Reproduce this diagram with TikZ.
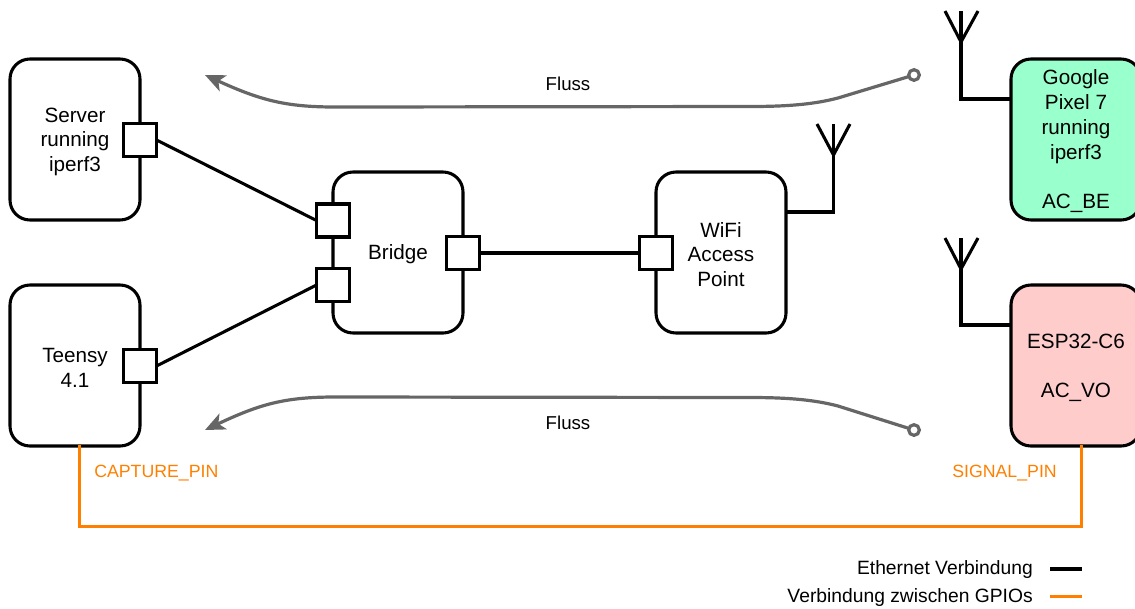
\documentclass[tikz,border=0pt]{standalone}
\usepackage{fontspec}
\setmainfont{Liberation Sans}
\usetikzlibrary{arrows.meta}
\definecolor{flowgray}{HTML}{666666}
\definecolor{gpio}{HTML}{FF8000}
\definecolor{mint}{HTML}{99FFCC}
\definecolor{rose}{HTML}{FFCCCC}
\newcommand{\tp}{\rule{0pt}{14.3pt}}
\tikzset{
  x=0.75pt,y=-0.75pt,
  devbox/.style={draw=black,line width=2.3pt,rounded corners=15pt,fill=white,minimum width=97.5pt,minimum height=120.75pt,inner sep=0pt,outer sep=0pt,align=center,font=\fontsize{15.5}{18.6}\selectfont},
  port/.style={draw=black,line width=2.3pt,fill=white,minimum width=24.75pt,minimum height=24.75pt,inner sep=0pt,outer sep=0pt},
  wire/.style={draw=black,line width=2.3pt},
  antenna/.style={draw=black,line width=2.3pt},
  flow/.style={draw=flowgray,line width=2.4pt},
  flowend/.style={draw=flowgray,line width=2.4pt,fill=white,circle,minimum size=8pt,inner sep=0pt,outer sep=0pt},
  gpiowire/.style={draw=gpio,line width=2.25pt},
  flabel/.style={font=\fontsize{14}{16}\selectfont,inner sep=0pt},
  gpiolabel/.style={font=\fontsize{13.3}{16}\selectfont,inner sep=0pt,text=gpio},
  leglabel/.style={font=\fontsize{14.45}{16}\selectfont,inner sep=0pt,anchor=east},
}
\begin{document}
\begin{tikzpicture}
\useasboundingbox (0,0) rectangle (1135,608);
\clip (0,0) rectangle (1135,608);

% orange GPIO link
\coordinate (gpioL) at (79.5,526);
\coordinate (gpioR) at (1081,526);

\node[devbox] (server) at (75,139.5) {\tp Server\\running\\iperf3};
\node[devbox] (teensy) at (75,365.5) {\tp Teensy\\4.1};
\node[devbox] (bridge) at (398,252.5) {\tp Bridge};
\node[devbox] (ap) at (721,252.5) {\tp WiFi\\Access\\Point};
\node[devbox,fill=mint] (pixel) at (1076,139.5) {\tp Google\\Pixel 7\\running\\iperf3\\[18.6pt]AC\_BE};
\node[devbox,fill=rose] (esp) at (1076,365.5) {\tp ESP32-C6\\[18.6pt]AC\_VO};

\coordinate (pinT) at (79.5,445);
\coordinate (pinE) at (1081,445);
\draw[gpiowire,line join=miter] (pinT) -- (gpioL) -- (gpioR) -- (pinE);

% ports
\node[port] (pserver) at (140,140) {};
\node[port] (pteensy) at (140,366) {};
\node[port] (pb1) at (333,220.5) {};
\node[port] (pb2) at (333,285) {};
\node[port] (pb3) at (463,253) {};
\node[port] (pap) at (656,253) {};

% ethernet
\draw[wire] (pserver.east) -- (pb1.west);
\draw[wire] (pteensy.east) -- (pb2.west);
\draw[wire] (pb3.east) -- (pap.west);

% antennas
\coordinate (aAPa) at (817,124);
\coordinate (aAPb) at (850,124);
\coordinate (aAPs) at (833.5,124);
\coordinate (aAPj) at (833.5,155);
\coordinate (aAPc) at (833.5,212);
\draw[antenna,line join=miter] (ap.east |- aAPc) -- (aAPc) -- (aAPs);
\draw[antenna,line join=miter] (aAPa) -- (aAPj) -- (aAPb);

\coordinate (aGa) at (945,11);
\coordinate (aGb) at (978,11);
\coordinate (aGs) at (961,11);
\coordinate (aGj) at (961,42);
\coordinate (aGc) at (961,99);
\draw[antenna,line join=miter] (pixel.west |- aGc) -- (aGc) -- (aGs);
\draw[antenna,line join=miter] (aGa) -- (aGj) -- (aGb);

\coordinate (aEa) at (945,238);
\coordinate (aEb) at (978,238);
\coordinate (aEs) at (961,238);
\coordinate (aEj) at (961,269);
\coordinate (aEc) at (961,325);
\draw[antenna,line join=miter] (esp.west |- aEc) -- (aEc) -- (aEs);
\draw[antenna,line join=miter] (aEa) -- (aEj) -- (aEb);

% flows
\node[flowend] (f1s) at (914,75) {};
\coordinate (f1e) at (205,75);
\draw[flow,-{Stealth[length=15pt,width=13pt,inset=4pt]}] (f1s) -- (838,98) .. controls (815,104) and (790,106.5) .. (750,106.5) -- (335,107) .. controls (285,107) and (260,100) .. (f1e);
\node[flowend] (f2s) at (914,430) {};
\coordinate (f2e) at (205,430);
\draw[flow,-{Stealth[length=15pt,width=13pt,inset=4pt]}] (f2s) -- (838,406) .. controls (815,400) and (790,397.5) .. (750,397.5) -- (335,397) .. controls (285,397) and (260,404) .. (f2e);

\node[flabel] (fluss1) at (568,84) {Fluss};
\node[flabel] (fluss2) at (568,423) {Fluss};
\node[gpiolabel,anchor=west] (capt) at (94,473) {CAPTURE\_PIN};
\node[gpiolabel,anchor=east] (sig) at (1057,473) {SIGNAL\_PIN};

% legend
\node[leglabel] (leg1) at (1033,570) {Ethernet Verbindung};
\node[leglabel] (leg2) at (1033,598) {Verbindung zwischen GPIOs};
\coordinate (l1a) at (1050,569); \coordinate (l1b) at (1082,569);
\coordinate (l2a) at (1050,596); \coordinate (l2b) at (1082,596);
\draw[wire] (l1a) -- (l1b);
\draw[gpiowire] (l2a) -- (l2b);
\end{tikzpicture}
\end{document}
